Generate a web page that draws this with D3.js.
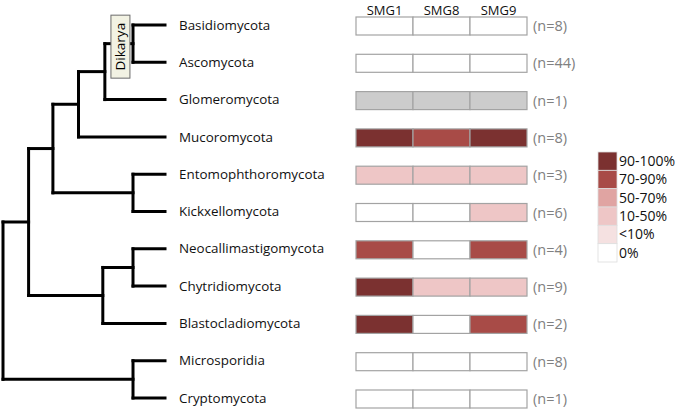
<!DOCTYPE html>
<html>
<head>
<meta charset="utf-8">
<script src="https://cdn.jsdelivr.net/npm/d3@7"></script>
<style>
  body { margin: 0; background: #fff; }
  text { font-family: "Open Sans", sans-serif; }
</style>
</head>
<body>
<div id="chart"></div>
<script>
// Phyla in tree order, with genome counts
const phyla = ["Basidiomycota", "Ascomycota", "Glomeromycota", "Mucoromycota",
  "Entomophthoromycota", "Kickxellomycota", "Neocallimastigomycota",
  "Chytridiomycota", "Blastocladiomycota", "Microsporidia", "Cryptomycota"];
const counts = [8, 44, 1, 8, 3, 6, 4, 9, 2, 8, 1];

// Presence class per phylum for each gene ("na" = not determined)
const genes = ["SMG1", "SMG8", "SMG9"];
const smg1 = ["0%", "0%", "na", "90-100%", "10-50%", "0%", "70-90%", "90-100%", "90-100%", "0%", "0%"];
const smg8 = ["0%", "0%", "na", "70-90%", "10-50%", "0%", "0%", "10-50%", "0%", "0%", "0%"];
const smg9 = ["0%", "0%", "na", "90-100%", "10-50%", "10-50%", "70-90%", "10-50%", "70-90%", "0%", "0%"];

const bins = ["90-100%", "70-90%", "50-70%", "10-50%", "<10%", "0%"];
const binColors = ["#7b3130", "#a84b47", "#e0a4a2", "#eec6c6", "#f5e1e1", "#ffffff"];
const naColor = "#cccccc";

// Tree topology; h = position of the node along the branch axis
const tree = {h: 0, children: [
  {h: 1, children: [
    {h: 1.95, children: [
      {h: 2.95, children: [
        {h: 3.98, children: [
          {h: 5.08, label: "Dikarya", children: [{name: "Basidiomycota"}, {name: "Ascomycota"}]},
          {name: "Glomeromycota"}
        ]},
        {name: "Mucoromycota"}
      ]},
      {h: 5.08, children: [{name: "Entomophthoromycota"}, {name: "Kickxellomycota"}]}
    ]},
    {h: 3.9, children: [
      {h: 5.08, children: [{name: "Neocallimastigomycota"}, {name: "Chytridiomycota"}]},
      {name: "Blastocladiomycota"}
    ]}
  ]},
  {h: 5.08, children: [{name: "Microsporidia"}, {name: "Cryptomycota"}]}
]};
const leafH = 6.33;

const width = 675, height = 410;

const svg = d3.select("#chart").append("svg")
  .attr("width", width)
  .attr("height", height);

const y = d3.scalePoint().domain(phyla).range([25, 398]);
const xTree = d3.scaleLinear().domain([0, leafH]).range([3, 165]);

// Compute node positions: leaves on rows, inner nodes at the middle of their children
const root = d3.hierarchy(tree);
root.eachAfter(d => {
  if (d.children) {
    d.py = (d.children[0].py + d.children[d.children.length - 1].py) / 2;
    d.px = xTree(d.data.h);
  } else {
    d.py = y(d.data.name);
    d.px = xTree(leafH);
  }
});

const treeG = svg.append("g")
  .attr("fill", "none")
  .attr("stroke", "#000")
  .attr("stroke-width", 3)
  .attr("stroke-linecap", "square");

const inner = root.descendants().filter(d => d.children);

treeG.selectAll(".v")
  .data(inner)
  .join("line")
  .attr("x1", d => d.px).attr("x2", d => d.px)
  .attr("y1", d => d.children[0].py)
  .attr("y2", d => d.children[d.children.length - 1].py);

treeG.selectAll(".h")
  .data(root.descendants().filter(d => d.parent))
  .join("line")
  .attr("x1", d => d.parent.px).attr("x2", d => d.px)
  .attr("y1", d => d.py).attr("y2", d => d.py);

// Clade label box
inner.filter(d => d.data.label).forEach(d => {
  const cx = (d.parent.px + d.px) / 2 + 1.5;
  const g = svg.append("g").attr("transform", `translate(${cx},${d.py + 3})`);
  g.append("rect")
    .attr("x", -9.5).attr("y", -31.5)
    .attr("width", 19).attr("height", 63)
    .attr("fill", "#f2f2e3")
    .attr("stroke", "#6b6b6b")
    .attr("stroke-width", 1);
  g.append("text")
    .attr("transform", "rotate(-90)")
    .attr("text-anchor", "middle")
    .attr("dy", "0.36em")
    .attr("font-size", 13.5)
    .text(d.data.label);
});

// Leaf labels
svg.append("g")
  .selectAll("text")
  .data(phyla)
  .join("text")
  .attr("x", 179)
  .attr("y", d => y(d))
  .attr("dy", "0.35em")
  .attr("font-size", 13.4)
  .attr("fill", "#111")
  .text(d => d);

// Heatmap
const xCell = d3.scaleBand().domain(genes).range([356, 527]);
const color = d3.scaleOrdinal().domain(bins).range(binColors).unknown(naColor);
const cellH = 18;
const values = {SMG1: smg1, SMG8: smg8, SMG9: smg9};

const cells = phyla.flatMap((p, i) => genes.map(g => ({phylum: p, gene: g, v: values[g][i]})));

svg.append("g")
  .selectAll("rect")
  .data(cells)
  .join("rect")
  .attr("x", d => xCell(d.gene))
  .attr("y", d => y(d.phylum) + 1 - cellH / 2)
  .attr("width", xCell.bandwidth())
  .attr("height", cellH)
  .attr("fill", d => d.v === "na" ? naColor : color(d.v))
  .attr("stroke", "#a3a3a3")
  .attr("stroke-width", 1.2);

// Column headers
svg.append("g")
  .selectAll("text")
  .data(genes)
  .join("text")
  .attr("x", d => xCell(d) + xCell.bandwidth() / 2)
  .attr("y", 14.5)
  .attr("text-anchor", "middle")
  .attr("font-size", 13)
  .attr("fill", "#111")
  .text(d => d);

// Counts
svg.append("g")
  .selectAll("text")
  .data(phyla)
  .join("text")
  .attr("x", 533)
  .attr("y", d => y(d) + 1)
  .attr("dy", "0.35em")
  .attr("font-size", 14.5)
  .attr("fill", "#808080")
  .text((d, i) => `(n=${counts[i]})`);

// Legend
const yLeg = d3.scaleBand().domain(bins).range([152, 262]);
const leg = svg.append("g");
leg.selectAll("rect")
  .data(bins)
  .join("rect")
  .attr("x", 598)
  .attr("y", d => yLeg(d))
  .attr("width", 19)
  .attr("height", yLeg.bandwidth())
  .attr("fill", d => color(d))
  .attr("stroke", "#dddddd")
  .attr("stroke-width", 0.8);
leg.selectAll("text")
  .data(bins)
  .join("text")
  .attr("x", 619)
  .attr("y", d => yLeg(d) + yLeg.bandwidth() / 2)
  .attr("dy", "0.35em")
  .attr("font-size", 14)
  .attr("fill", "#111")
  .text(d => d);
</script>
</body>
</html>
